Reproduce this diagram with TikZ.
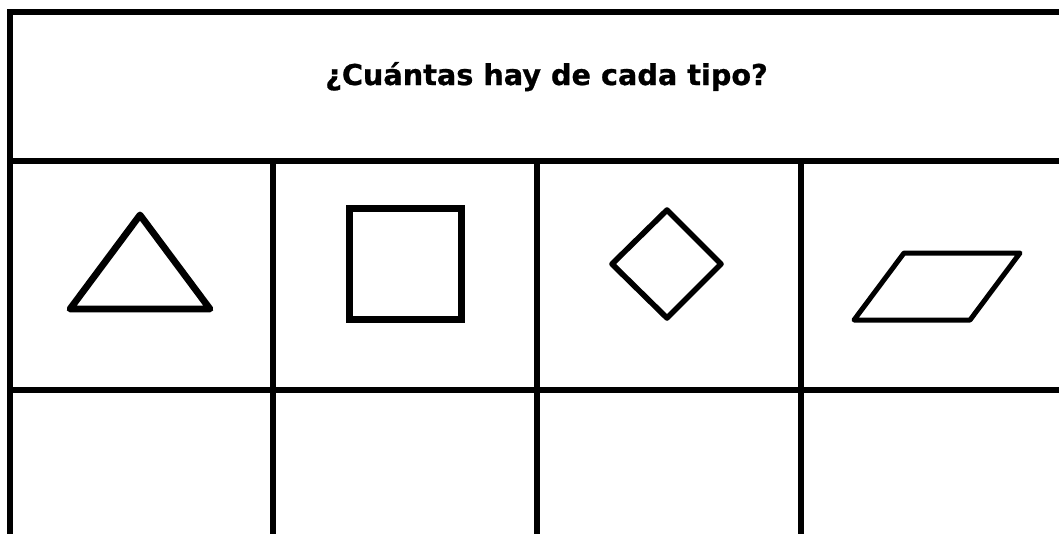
\documentclass[tikz,border=0pt]{standalone}
\usepackage{fontspec}
\newfontfamily\titlefont{DejaVu Sans Bold}[FakeBold=0.8]
\tikzset{
    gridline/.style={line width=6.4pt},
    figline/.style={line width=#1, line join=round, line cap=round},
}
\begin{document}
\begin{tikzpicture}[x=1pt, y=-1pt]
            \useasboundingbox (0,0) rectangle (1059,533);
            \clip (0,0) rectangle (1059,533);
            % table
            \draw[gridline] (10,545) -- (10,12) -- (1075,12);
            \draw[gridline] (10,161) -- (1075,161);
            \draw[gridline] (10,390) -- (1075,390);
            \foreach \x in {273,537,801}
                \draw[gridline] (\x,161) -- (\x,545);
            \node[anchor=base] (title) at (546.5,85)
                 {\titlefont\fontsize{28.7}{34}\selectfont ¿Cuántas hay de cada tipo?};
            % figures
            \draw[figline=6.8pt]                     ( 140,215) -- ( 210,309) -- (  70,309) -- cycle;
            \draw[figline=7.0pt, line join=miter]    ( 349,208) rectangle ( 461,319);
            \draw[figline=5.6pt]                     ( 667,210) -- ( 721,264) -- ( 667,318) -- ( 612,264) -- cycle;
            \draw[figline=5.0pt]                     ( 904,253) -- (1020,253) -- ( 970,320) -- ( 854,320) -- cycle;
        \end{tikzpicture}
\end{document}
